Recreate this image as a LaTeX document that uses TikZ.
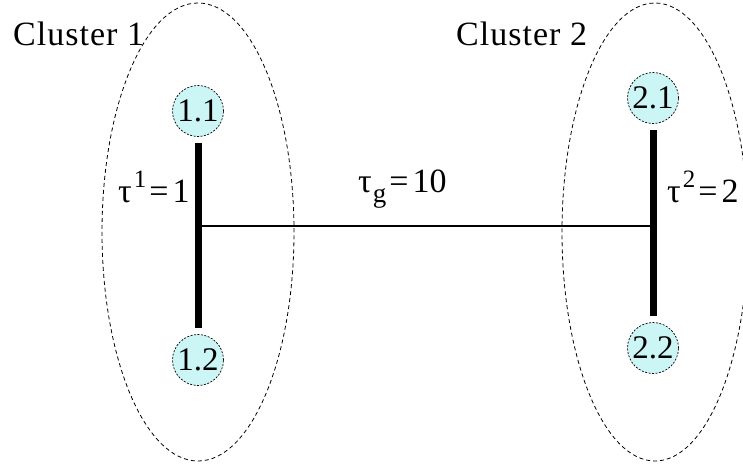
\documentclass[tikz,border=0pt]{standalone}
\usepackage{fontspec}
\setmainfont{Liberation Serif}
\newfontfamily\serf{Liberation Serif}
\begin{document}
\begin{tikzpicture}[x=1pt,y=-1pt,
  txt/.style={font=\serf\fontsize{34}{38}\selectfont, inner sep=0pt, anchor=base west},
  clab/.style={txt, font=\serf\fontsize{34}{38}\selectfont\addfontfeature{LetterSpace=3}},
  vtx/.style={circle, draw, dashed, dash pattern=on 2pt off 1.5pt, line width=0.7pt,
    fill={rgb,255:red,204;green,245;blue,245}, minimum size=51pt, inner sep=0pt,
    font=\serf\fontsize{33}{38}\selectfont},
  clus/.style={draw, dashed, dash pattern=on 4pt off 3pt, line width=0.8pt},
  thick edge/.style={line width=7pt, shorten <=6pt, shorten >=6pt},
  thin edge/.style={line width=1.5pt}]
\useasboundingbox (0,0) rectangle (743,467);
% clusters
\draw[clus] (198,232) ellipse [x radius=96pt, y radius=229pt];
\draw[clus] (655,232) ellipse [x radius=93pt, y radius=229pt];
% labels
\node[clab] (c1) at (13,45) {Cluster 1};
\node[clab] (c2) at (456,45) {Cluster 2};
% vertices
\node[vtx] (n11) at (198,111) {1.1};
\node[vtx] (n12) at (198,360) {1.2};
\node[vtx] (n21) at (653,98) {2.1};
\node[vtx] (n22) at (653,348) {2.2};
% edges
\draw[thick edge] (n11) -- (n12);
\draw[thick edge] (n21) -- (n22);
\coordinate (h1) at (198,226);
\coordinate (h2) at (650,226);
\draw[thin edge] (h1) -- (h2);
% weights
\node[txt] (t1) at (118,202) {τ\kern2pt\raisebox{0.42em}{\fontsize{25}{25}\selectfont 1}\kern3pt=\kern4pt1};
\node[txt] (t2) at (667,202) {τ\kern2pt\raisebox{0.42em}{\fontsize{25}{25}\selectfont 2}\kern3pt=\kern4pt2};
\node[txt] (tg) at (358,192) {τ\kern1pt\raisebox{-0.3em}{\fontsize{27}{27}\selectfont g}\kern3pt=\kern4pt10};
\end{tikzpicture}
\end{document}
